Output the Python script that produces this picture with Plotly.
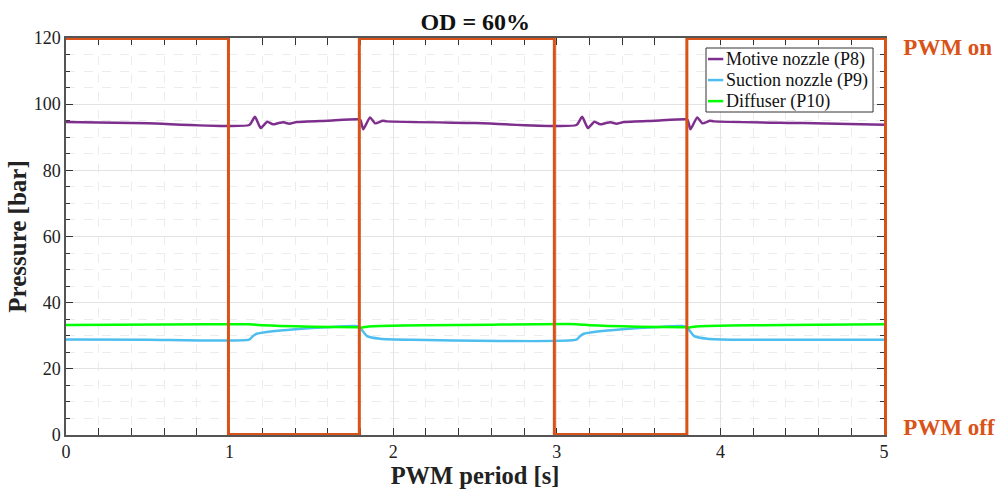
import plotly.graph_objects as go

# PWM valve signal (1 = on, 0 = off)
pwm_t = [0.0, 0.993, 0.993, 1.793, 1.793, 2.985, 2.985, 3.795, 3.795, 5.0]
pwm_v = [1, 1, 0, 0, 1, 1, 0, 0, 1, 1]

# Motive nozzle pressure P8 [bar]
p8_t = [0.0, 0.5, 1.12, 1.155, 1.19, 1.23, 1.265, 1.30, 1.33, 1.365, 1.41, 1.60, 1.787,
        1.80, 1.817, 1.858, 1.89, 1.936, 1.96, 2.5, 3.12, 3.155, 3.19, 3.23, 3.265, 3.30,
        3.33, 3.365, 3.41, 3.60, 3.787, 3.80, 3.817, 3.858, 3.89, 3.936, 3.96, 4.5, 5.0]
p8_v = [94.6, 94.2, 93.7, 96.2, 92.8, 94.7, 93.9, 94.3, 94.5, 94.1, 94.6, 95.0, 95.4,
        95.2, 92.4, 96.0, 94.2, 95.0, 94.8, 94.3, 93.7, 96.2, 92.8, 94.7, 93.9, 94.3,
        94.5, 94.1, 94.6, 95.0, 95.4, 95.2, 92.4, 96.0, 94.2, 95.0, 94.8, 94.3, 93.8]

# Suction nozzle pressure P9 [bar]
p9_t = [0.0, 0.5, 1.12, 1.14, 1.165, 1.25, 1.40, 1.60, 1.78, 1.80, 1.84, 1.92, 2.1,
        3.12, 3.14, 3.165, 3.25, 3.40, 3.60, 3.78, 3.80, 3.84, 3.92, 4.1, 5.0]
p9_v = [28.9, 28.8, 28.8, 29.8, 30.6, 31.3, 32.0, 32.6, 32.9, 32.3, 29.9, 29.1, 28.8,
        28.8, 29.8, 30.6, 31.3, 32.0, 32.6, 32.9, 32.3, 29.9, 29.1, 28.8, 28.8]

# Diffuser pressure P10 [bar]
p10_t = [0.0, 0.6, 1.12, 1.20, 1.31, 1.50, 1.78, 1.80, 1.85, 1.92, 2.2, 2.6,
         3.12, 3.20, 3.31, 3.50, 3.78, 3.80, 3.85, 3.92, 4.2, 4.6, 5.0]
p10_v = [33.25, 33.4, 33.45, 33.2, 32.95, 32.75, 32.55, 32.45, 32.8, 32.95, 33.15, 33.35,
         33.5, 33.2, 32.95, 32.75, 32.55, 32.45, 32.8, 32.95, 33.15, 33.35, 33.45]

series_names = ["Motive nozzle (P8)", "Suction nozzle (P9)", "Diffuser (P10)"]
series_colors = ["#7E2F8E", "#4DBEEE", "#00FF00"]

x_ticks = [0, 1, 2, 3, 4, 5]
y_ticks = [0, 20, 40, 60, 80, 100, 120]
pwm_labels = ["PWM off", "PWM on"]

SERIF = "Liberation Serif"
ORANGE = "#D95319"
TEXT = "#222222"

fig = go.Figure()

for name, color, t, v in zip(series_names, series_colors,
                             [p8_t, p9_t, p10_t], [p8_v, p9_v, p10_v]):
    fig.add_trace(go.Scatter(x=t, y=v, mode="lines", name=name, showlegend=False,
                             line=dict(color=color, width=2.5, shape="spline", smoothing=0.5)))
fig.add_trace(go.Scatter(x=pwm_t, y=pwm_v, mode="lines", name="PWM", yaxis="y2",
                         showlegend=False, line=dict(color=ORANGE, width=3)))

axis_common = dict(
    showline=True, linecolor="#555555", linewidth=1.5, mirror="allticks",
    ticks="inside", tickcolor="#333333", ticklen=7, tickwidth=1,
    gridcolor="#e3e3e3", gridwidth=1, zeroline=False, automargin=False,
    layer="below traces",
    tickfont=dict(family=SERIF, size=18, color=TEXT),
)

# Boxed legend in the upper right corner of the plot area
leg_x0, leg_x1 = 0.7824, 0.9866
leg_y0, leg_y1 = 0.8136, 0.9748
row_y = [0.947, 0.894, 0.841]
fig.add_shape(type="rect", xref="paper", yref="paper", x0=leg_x0, x1=leg_x1, y0=leg_y0, y1=leg_y1,
              line=dict(color="#333333", width=1), fillcolor="white", layer="above")
for name, color, ry in zip(series_names, series_colors, row_y):
    fig.add_shape(type="line", xref="paper", yref="paper", x0=0.7848, x1=0.8035, y0=ry, y1=ry,
                  line=dict(color=color, width=2.5), layer="above")
    fig.add_annotation(xref="paper", yref="paper", x=0.8045, y=ry, xanchor="left", yanchor="middle",
                       text=name, showarrow=False,
                       font=dict(family=SERIF, size=18, color="#111111"))

fig.update_layout(
    width=998, height=492,
    margin=dict(l=66, r=114, t=38, b=57),
    paper_bgcolor="white", plot_bgcolor="white",
    font=dict(family=SERIF, color=TEXT),
    showlegend=False,
    title=dict(text="<b>OD = 60%</b>", x=0.4762, xanchor="center", y=0.956, yanchor="middle",
               font=dict(family=SERIF, size=24, color="#111111")),
    xaxis=dict(
        range=[0, 5], tickvals=x_ticks,
        title=dict(text="<b>PWM period [s]</b>", font=dict(family=SERIF, size=24.5, color=TEXT),
                   standoff=4),
        minor=dict(dtick=0.2, ticks="inside", ticklen=4, tickcolor="#333333",
                   showgrid=True, gridcolor="#ececec", griddash="dash"),
        **axis_common,
    ),
    yaxis=dict(
        range=[0, 120], tickvals=y_ticks,
        title=dict(text="<b>Pressure [bar]</b>", font=dict(family=SERIF, size=25, color=TEXT),
                   standoff=0),
        minor=dict(dtick=5, ticks="inside", ticklen=4, tickcolor="#333333",
                   showgrid=True, gridcolor="#ececec", griddash="dash"),
        **axis_common,
    ),
    yaxis2=dict(
        overlaying="y", side="right", range=[-0.0015, 1.0015],
        tickvals=[0.018, 0.98], ticktext=pwm_labels,
        ticks="outside", ticklen=12, tickcolor="rgba(0,0,0,0)",
        showline=True, linecolor=ORANGE, linewidth=2.5, automargin=False,
        showgrid=False, zeroline=False,
        tickfont=dict(family=SERIF, size=23, color=ORANGE, weight="bold"),
    ),
)

fig.write_html("out.html")
